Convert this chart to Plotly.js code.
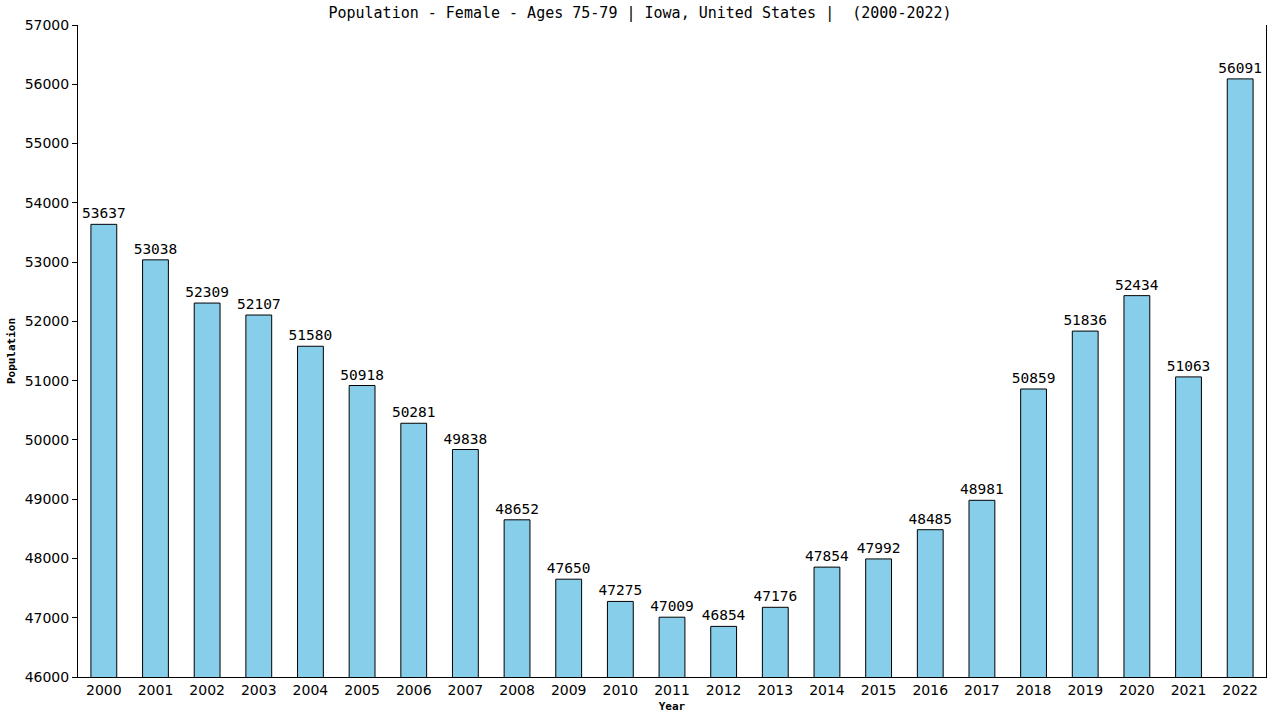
<!DOCTYPE html>
<html>
<head>
<meta charset="utf-8">
<script src="https://cdn.plot.ly/plotly-3.0.1.min.js"></script>
<style>html,body{margin:0;padding:0;background:#fff}#chart{width:1280px;height:720px}</style>
</head>
<body>
<div id="chart"></div>
<script>
var years = ['2000','2001','2002','2003','2004','2005','2006','2007','2008','2009','2010','2011',
             '2012','2013','2014','2015','2016','2017','2018','2019','2020','2021','2022'];
var population = [53637, 53038, 52309, 52107, 51580, 50918, 50281, 49838, 48652, 47650, 47275, 47009,
                  46854, 47176, 47854, 47992, 48485, 48981, 50859, 51836, 52434, 51063, 56091];
var yTicks = [46000, 47000, 48000, 49000, 50000, 51000, 52000, 53000, 54000, 55000, 56000, 57000];

var mono = 'DejaVu Sans Mono, monospace';
var sans = 'DejaVu Sans, Verdana, sans-serif';

var data = [{
    type: 'bar',
    x: years,
    y: population,
    width: 0.5,
    marker: {color: '#87ceeb', line: {color: '#000', width: 1}},
    text: population.map(String),
    textposition: 'outside',
    constraintext: 'none',
    cliponaxis: false,
    textfont: {family: mono, size: 14.5, color: '#000'},
    hoverinfo: 'none'
}];

var layout = {
    width: 1280, height: 720,
    margin: {l: 78, r: 14, t: 25, b: 43},
    paper_bgcolor: '#fff', plot_bgcolor: '#fff',
    showlegend: false,
    title: {text: 'Population - Female - Ages 75-79 | Iowa, United States |  (2000-2022)',
            font: {family: mono, size: 15, color: '#000'}, x: 0.5, xanchor: 'center', y: 0.982, yanchor: 'middle'},
    xaxis: {
        type: 'category', range: [-0.5, 22.5],
        showline: true, linecolor: '#000', linewidth: 1,
        ticks: '', showgrid: false, zeroline: false,
        tickfont: {family: sans, size: 14, color: '#000'},
        title: {text: '<b>Year</b>', font: {family: mono, size: 11, color: '#000'}, standoff: 5}
    },
    yaxis: {
        range: [46000, 57000], tickvals: yTicks, ticktext: yTicks.map(String),
        showline: true, mirror: true, linecolor: '#000', linewidth: 1,
        ticks: 'outside', ticklen: 5, tickcolor: '#000',
        showgrid: false, zeroline: false,
        tickfont: {family: sans, size: 14, color: '#000'},
        title: {text: '<b>Population</b>', font: {family: mono, size: 11, color: '#000'}, standoff: 6}
    }
};

Plotly.newPlot('chart', data, layout, {displayModeBar: false, staticPlot: true});
</script>
</body>
</html>
